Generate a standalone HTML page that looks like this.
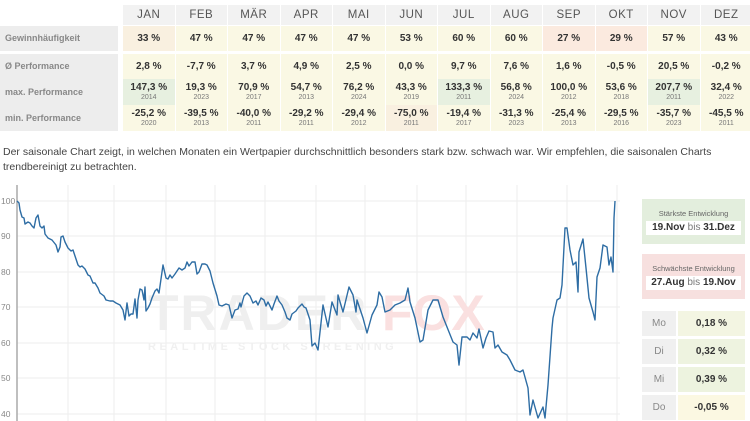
<!DOCTYPE html>
<html><head><meta charset="utf-8"><style>
body{margin:0;width:750px;height:421px;overflow:hidden;background:#fff;font-family:"Liberation Sans",sans-serif;position:relative}
.c{position:absolute;text-align:center;box-sizing:border-box}
.h{color:#555;font-size:11.5px;background:#f2f2f2;line-height:20px;letter-spacing:.5px}
.l{position:absolute;left:0;width:118px;background:#ededed;color:#888;font-size:9px;font-weight:bold;padding-left:5px;box-sizing:border-box}
.v{font-size:10px;font-weight:bold;color:#333}
.s{font-size:7px;color:#777;font-weight:normal;display:block;line-height:9px}
.y{background:#faf8e4}.p{background:#fbeadf}.g{background:#e7f0e0}.o{background:#f9f0e0}
.t{position:absolute;left:3px;font-size:10.5px;color:#444}
.ax{position:absolute;left:1px;font-size:8.5px;color:#888}
</style></head><body>
<div id="tb"></div>
<div class="t" style="top:146px">Der saisonale Chart zeigt, in welchen Monaten ein Wertpapier durchschnittlich besonders stark bzw. schwach war. Wir empfehlen, die saisonalen Charts</div>
<div class="t" style="top:161px">trendbereinigt zu betrachten.</div>

<svg style="position:absolute;left:0;top:185px" width="640" height="236" viewBox="0 185 640 236">
<g stroke="#eee" stroke-width="1">
<line x1="17" y1="201" x2="620" y2="201"/><line x1="17" y1="236" x2="620" y2="236"/><line x1="17" y1="272" x2="620" y2="272"/><line x1="17" y1="307" x2="620" y2="307"/><line x1="17" y1="343" x2="620" y2="343"/><line x1="17" y1="378" x2="620" y2="378"/><line x1="17" y1="414" x2="620" y2="414"/>
<line x1="68" y1="185" x2="68" y2="421"/><line x1="114" y1="185" x2="114" y2="421"/><line x1="166" y1="185" x2="166" y2="421"/><line x1="215" y1="185" x2="215" y2="421"/><line x1="265" y1="185" x2="265" y2="421"/><line x1="316" y1="185" x2="316" y2="421"/><line x1="365" y1="185" x2="365" y2="421"/><line x1="417" y1="185" x2="417" y2="421"/><line x1="466" y1="185" x2="466" y2="421"/><line x1="517" y1="185" x2="517" y2="421"/><line x1="567" y1="185" x2="567" y2="421"/><line x1="617" y1="185" x2="617" y2="421"/>
</g>
<line x1="17" y1="185" x2="17" y2="421" stroke="#aaa" stroke-width="1.5"/>
<text x="148" y="330" font-size="50" font-weight="bold" fill="#efefef" font-family="Liberation Sans" letter-spacing="2">TRADER</text>
<text x="382" y="330" font-size="50" font-weight="bold" fill="#fae0e0" font-family="Liberation Sans">FOX</text>
<text x="148" y="350" font-size="11" font-weight="bold" fill="#f0f0f0" font-family="Liberation Sans" letter-spacing="3.5">REALTIME STOCK SCREENING</text>
<polyline fill="none" stroke="#2e6da4" stroke-width="1.4" stroke-linejoin="round" points="17,201 19,203 20,210 22,217 24,218 25,224 28,222 30,223 32,226 34,228 36,218 38,215 40,226 42,228 44,226 45,234 48,238 52,240 56,245 58,252 60,247 61,237 63,236 65,242 68,248 71,251 73,250 76,259 78,265 80,267 82,266 85,269 88,275 90,276 93,283 95,283 98,288 100,293 104,296 106,300 110,301 113,301 116,303 120,305 123,310 125,320 127,303 129,316 131,314 133,314 135,299 137,318 138,300 140,289 142,290 144,300 145,287 146,311 148,308 150,304 152,298 155,291 157,289 159,293 162,272 163,265 166,278 168,279 170,275 172,278 175,274 179,268 182,270 185,268 187,262 189,266 192,262 195,262 197,274 199,272 202,264 205,264 207,265 210,271 213,283 217,296 219,305 222,306 226,304 229,305 232,318 235,310 238,309 240,303 241,307 244,296 247,293 250,296 253,303 256,301 258,305 261,298 264,300 266,306 268,302 272,310 274,304 277,296 279,301 282,305 285,312 287,318 290,320 292,314 296,311 298,308 302,304 304,307 306,308 309,317 310,320 312,346 315,343 318,350 323,305 328,327 332,302 337,315 338,295 343,312 349,287 353,295 356,312 357,300 363,318 367,333 372,315 377,305 379,292 382,297 385,312 390,310 395,305 400,303 405,300 408,288 410,302 415,318 420,342 423,340 428,310 433,300 438,300 443,317 453,342 457,345 459,365 462,337 467,337 470,340 473,333 477,338 479,329 483,348 486,338 489,331 493,332 495,348 498,345 502,352 507,355 510,360 515,370 520,372 523,370 528,388 530,415 533,400 538,418 543,407 545,418 548,385 552,328 553,318 557,300 560,298 562,285 565,228 567,228 570,250 573,265 576,262 578,292 579,252 583,239 586,268 589,298 593,312 595,320 597,277 600,268 603,245 607,247 609,265 611,257 613,272 614,218 615,201"/>
</svg>
<div class="ax" style="top:196px">100</div><div class="ax" style="top:231px">90</div><div class="ax" style="top:267px">80</div><div class="ax" style="top:302px">70</div><div class="ax" style="top:338px">60</div><div class="ax" style="top:373px">50</div><div class="ax" style="top:409px">40</div>

<div style="position:absolute;left:642px;top:199px;width:103px;height:45px;background:#e3eedd">
<div style="font-size:7.5px;color:#666;text-align:center;margin-top:10px">Stärkste Entwicklung</div>
<div style="background:#fff;margin:3px 4px;font-size:10px;font-weight:bold;text-align:center;color:#333;line-height:14px">19.Nov <span style="font-weight:normal;color:#777">bis</span> 31.Dez</div></div>
<div style="position:absolute;left:642px;top:254px;width:103px;height:45px;background:#f7e0df">
<div style="font-size:7.5px;color:#666;text-align:center;margin-top:10px">Schwächste Entwicklung</div>
<div style="background:#fff;margin:3px 4px;font-size:10px;font-weight:bold;text-align:center;color:#333;line-height:14px">27.Aug <span style="font-weight:normal;color:#777">bis</span> 19.Nov</div></div>
<div id="wd"></div>
<script>
var M=["JAN","FEB","MÄR","APR","MAI","JUN","JUL","AUG","SEP","OKT","NOV","DEZ"];
var G=["33 %","47 %","47 %","47 %","47 %","53 %","60 %","60 %","27 %","29 %","57 %","43 %"];
var GC=["o","y","y","y","y","y","y","y","p","p","y","y"];
var P=["2,8 %","-7,7 %","3,7 %","4,9 %","2,5 %","0,0 %","9,7 %","7,6 %","1,6 %","-0,5 %","20,5 %","-0,2 %"];
var X=[["147,3 %","2014"],["19,3 %","2023"],["70,9 %","2017"],["54,7 %","2013"],["76,2 %","2024"],["43,3 %","2019"],["133,3 %","2011"],["56,8 %","2024"],["100,0 %","2012"],["53,6 %","2018"],["207,7 %","2011"],["32,4 %","2022"]];
var XC=["g","y","y","y","y","y","g","y","y","y","g","y"];
var N=[["-25,2 %","2020"],["-39,5 %","2013"],["-40,0 %","2011"],["-29,2 %","2011"],["-29,4 %","2012"],["-75,0 %","2011"],["-19,4 %","2017"],["-31,3 %","2023"],["-25,4 %","2013"],["-29,5 %","2016"],["-35,7 %","2023"],["-45,5 %","2011"]];
var h='<div class="l" style="top:26px;height:25px;line-height:25px">Gewinnhäufigkeit</div><div class="l" style="top:54px;height:25px;line-height:25px">Ø Performance</div><div class="l" style="top:79px;height:26px;line-height:26px">max. Performance</div><div class="l" style="top:105px;height:26px;line-height:26px">min. Performance</div>';
for(var i=0;i<12;i++){var L=123+i*52.5,W=51.5;
h+='<div class="c h" style="left:'+L+'px;top:5px;width:'+W+'px;height:20px">'+M[i]+'</div>';
h+='<div class="c v '+GC[i]+'" style="left:'+L+'px;top:26px;width:'+W+'px;height:25px;line-height:25px">'+G[i]+'</div>';
h+='<div class="c v y" style="left:'+L+'px;top:54px;width:'+W+'px;height:25px;line-height:25px">'+P[i]+'</div>';
h+='<div class="c v '+XC[i]+'" style="left:'+L+'px;top:79px;width:'+W+'px;height:26px;padding-top:3px;line-height:11px">'+X[i][0]+'<span class="s">'+X[i][1]+'</span></div>';
h+='<div class="c v '+(i==5?'o':'y')+'" style="left:'+L+'px;top:105px;width:'+W+'px;height:26px;padding-top:3px;line-height:11px">'+N[i][0]+'<span class="s">'+N[i][1]+'</span></div>';}
document.getElementById('tb').innerHTML=h;
var D=[["Mo","0,18 %","#f3f5e2"],["Di","0,32 %","#eef3e0"],["Mi","0,39 %","#edf3df"],["Do","-0,05 %","#fbf8e2"]],w='';
for(var j=0;j<4;j++){var T=311+j*28;
w+='<div class="c" style="left:642px;top:'+T+'px;width:34px;height:25px;line-height:25px;background:#f0f0f0;color:#888;font-size:10px">'+D[j][0]+'</div>';
w+='<div class="c" style="left:678px;top:'+T+'px;width:67px;height:25px;line-height:25px;background:'+D[j][2]+';color:#333;font-size:10px;font-weight:bold">'+D[j][1]+'</div>';}
document.getElementById('wd').innerHTML=w;
</script>
</body></html>
